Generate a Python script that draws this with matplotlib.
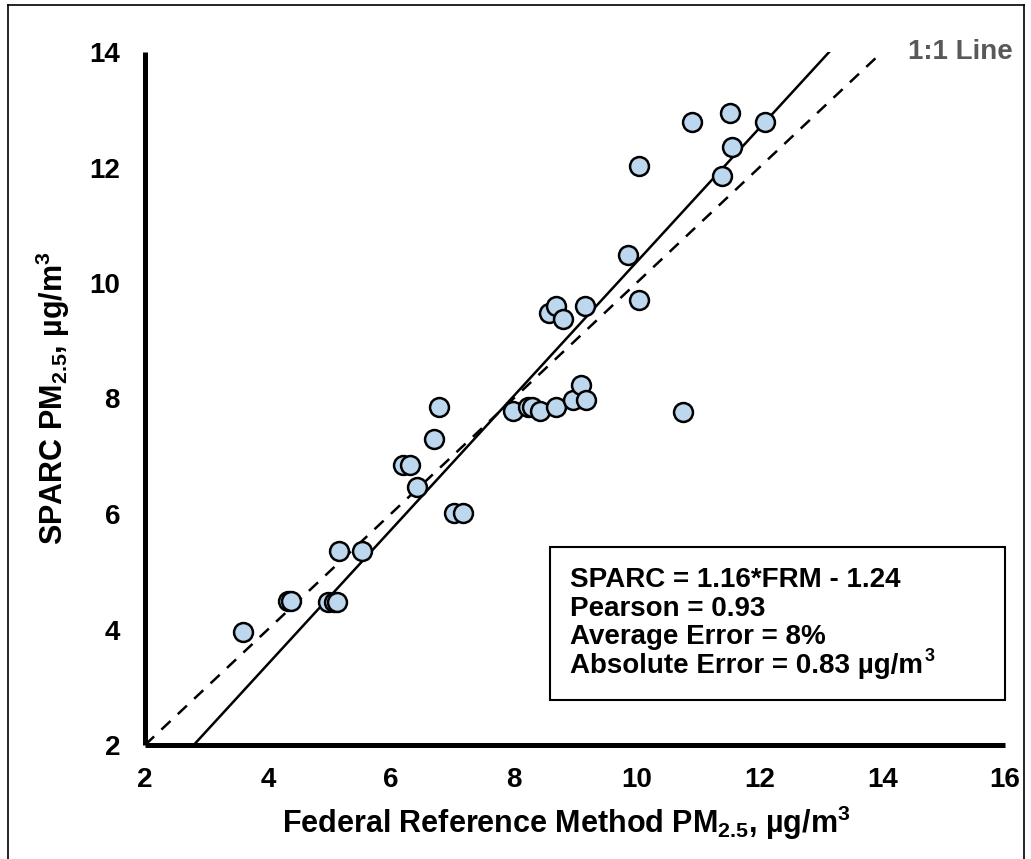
import matplotlib
matplotlib.use("Agg")
import matplotlib.pyplot as plt
from matplotlib.patches import Rectangle
from matplotlib.lines import Line2D
import numpy as np

# ---- data ----
frm = [3.60, 4.33, 4.38, 4.98, 5.08, 5.13, 5.16, 5.53, 6.20, 6.31, 6.43, 6.71,
       6.79, 7.03, 7.18, 7.99, 8.23, 8.30, 8.43, 8.69, 8.97, 9.10, 9.18, 10.76,
       8.58, 8.69, 8.80, 9.16, 9.86, 10.04, 10.04, 11.39, 11.56, 10.90, 11.52, 12.09]
sparc = [3.96, 4.49, 4.49, 4.48, 4.48, 4.48, 5.36, 5.36, 6.85, 6.85, 6.47, 7.30,
         7.85, 6.02, 6.02, 7.78, 7.85, 7.85, 7.78, 7.85, 7.97, 8.23, 7.97, 7.77,
         9.48, 9.60, 9.38, 9.60, 10.48, 9.71, 12.03, 11.85, 12.36, 12.79, 12.94, 12.79]
slope = 1.16
intercept = -1.24
one_to_one = [2, 14]
x_ticks = [2, 4, 6, 8, 10, 12, 14, 16]
y_ticks = [2, 4, 6, 8, 10, 12, 14]
stats_lines = ["SPARC = 1.16*FRM - 1.24",
               "Pearson = 0.93",
               "Average Error = 8%",
               "Absolute Error = 0.83 µg/m"]
stats_sup = "3"

W, H = 1031, 859
fig = plt.figure(figsize=(W / 100, H / 100), dpi=100)
ax = fig.add_axes([145 / W, 1 - 745 / H, 860 / W, 693 / H])

arial = ['Liberation Sans', 'DejaVu Sans']
plt.rcParams['mathtext.default'] = 'regular'

# 1:1 line
ax.plot(one_to_one, one_to_one, color='black', lw=1.8, ls=(0, (5, 4)), zorder=2)
# regression line, clipped between y=2 and y=14
yl = np.array([2.0, 14.0])
xl = (yl - intercept) / slope
ax.plot(xl, yl, color='black', lw=1.8, zorder=2)

ax.scatter(frm, sparc, s=185, facecolor='#BDD7EE', edgecolor='black',
           linewidth=1.8, zorder=3)

ax.set_xlim(2, 16)
ax.set_ylim(2, 14)
ax.set_xticks(x_ticks)
ax.set_yticks(y_ticks)
ax.set_xticklabels([str(t) for t in x_ticks], family=arial, weight='bold', fontsize=20)
ax.set_yticklabels([str(t) for t in y_ticks], family=arial, weight='bold', fontsize=20)
ax.tick_params(axis='x', length=0, pad=16)
ax.tick_params(axis='y', length=0, pad=18)
for s in ['top', 'right']:
    ax.spines[s].set_visible(False)
for s in ['left', 'bottom']:
    ax.spines[s].set_linewidth(3.6)
    ax.spines[s].set_capstyle('butt')

ax.set_xlabel('Federal Reference Method PM$_{2.5}$, µg/m$^{3}$', family=arial,
              weight='bold', fontsize=22, labelpad=8)
ax.xaxis.set_label_coords((566 - 145) / 860, -0.085)
ax.set_ylabel('SPARC PM$_{2.5}$, µg/m$^{3}$', family=arial,
              weight='bold', fontsize=22, labelpad=12)

# 1:1 label
ax.text((960 - 145) / 860, 1.0, '1:1 Line', transform=ax.transAxes,
        ha='center', va='center', color='#595959', family=arial,
        weight='bold', fontsize=20)

# stats box
x0, x1 = (550 - 145) / 860, 1.0
y0, y1 = (745 - 700) / 693, (745 - 547) / 693
ax.add_patch(Rectangle((x0, y0), x1 - x0, y1 - y0, transform=ax.transAxes,
                       facecolor='white', edgecolor='black', lw=1.5, zorder=4,
                       clip_on=False))
baselines = [587, 615.5, 644, 673]
texts = []
for line, b in zip(stats_lines, baselines):
    t = ax.text((570 - 145) / 860, (745 - b) / 693, line,
                transform=ax.transAxes, ha='left', va='baseline', family=arial,
                weight='bold', fontsize=20, zorder=5)
    texts.append(t)

renderer = fig.canvas.get_renderer()
bb = texts[-1].get_window_extent(renderer)
ax.annotate(stats_sup, xy=(bb.x1, bb.y0), xycoords='figure pixels',
            xytext=(1, 13), textcoords='offset points', ha='left', va='baseline',
            family=arial, weight='bold', fontsize=13, zorder=5)

# figure border
bx0, by_top, bx1 = 7.5 / W, 1 - 4.5 / H, 1023.5 / W
fig.add_artist(Line2D([bx0, bx0], [0, by_top], transform=fig.transFigure, color='black', lw=1.2))
fig.add_artist(Line2D([bx0, bx1], [by_top, by_top], transform=fig.transFigure, color='black', lw=1.2))
fig.add_artist(Line2D([bx1, bx1], [0, by_top], transform=fig.transFigure, color='black', lw=1.2))

fig.savefig('out.png', dpi=100)
